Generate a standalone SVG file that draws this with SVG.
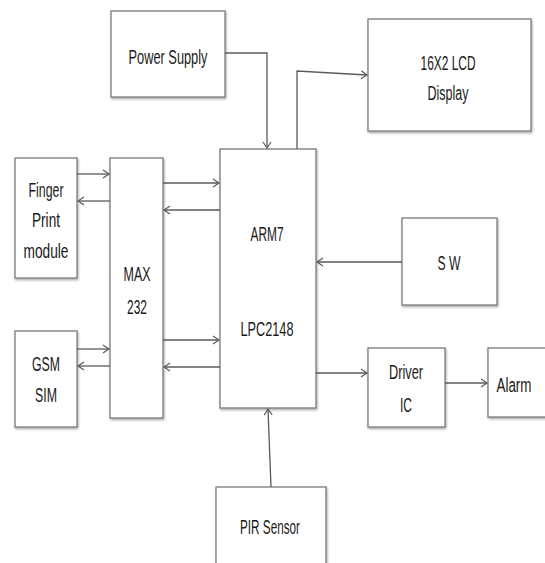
<svg xmlns="http://www.w3.org/2000/svg" width="545" height="563" viewBox="0 0 545 563">
<style>
.box{fill:#fff;stroke:#7a7a7a;stroke-width:1.3;filter:url(#s)}
.t{font-family:"Liberation Sans",Arial,sans-serif;font-size:19.5px;fill:#1a1a1a;text-anchor:middle}
.c{fill:none;stroke:#5a5a5a;stroke-width:1.3}
</style>
<defs>
<filter id="s" x="-5%" y="-5%" width="115%" height="115%">
<feDropShadow dx="0.8" dy="1.5" stdDeviation="0.8" flood-color="#000" flood-opacity="0.35"/>
</filter>
<marker id="a" markerWidth="10" markerHeight="10" refX="7" refY="5" orient="auto" markerUnits="userSpaceOnUse">
<polyline points="1,1 7,5 1,9" fill="none" stroke="#5a5a5a" stroke-width="1.2"/>
</marker>
</defs>
<rect width="545" height="563" fill="#fff"/>
<g id="power">
<rect class="box" x="111" y="11" width="114" height="86"/>
<text class="t" x="168" y="64" textLength="79" lengthAdjust="spacingAndGlyphs">Power Supply</text>
</g>
<g id="lcd">
<rect class="box" x="368" y="19" width="163" height="112"/>
<text class="t" x="448" y="70" textLength="55" lengthAdjust="spacingAndGlyphs">16X2 LCD</text>
<text class="t" x="448" y="100" textLength="41" lengthAdjust="spacingAndGlyphs">Display</text>
</g>
<g id="finger">
<rect class="box" x="15" y="158" width="62" height="120"/>
<text class="t" x="46" y="197" textLength="35" lengthAdjust="spacingAndGlyphs">Finger</text>
<text class="t" x="46" y="227" textLength="28" lengthAdjust="spacingAndGlyphs">Print</text>
<text class="t" x="46" y="258" textLength="45" lengthAdjust="spacingAndGlyphs">module</text>
</g>
<g id="max232">
<rect class="box" x="110" y="158" width="53" height="260"/>
<text class="t" x="137" y="281" textLength="27" lengthAdjust="spacingAndGlyphs">MAX</text>
<text class="t" x="137" y="314" textLength="20" lengthAdjust="spacingAndGlyphs">232</text>
</g>
<g id="arm7">
<rect class="box" x="220" y="149" width="96" height="259"/>
<text class="t" x="267" y="241" textLength="33" lengthAdjust="spacingAndGlyphs">ARM7</text>
<text class="t" x="267" y="336" textLength="53" lengthAdjust="spacingAndGlyphs">LPC2148</text>
</g>
<g id="gsm">
<rect class="box" x="15" y="331" width="62" height="96"/>
<text class="t" x="46" y="371" textLength="28" lengthAdjust="spacingAndGlyphs">GSM</text>
<text class="t" x="46" y="402" textLength="22" lengthAdjust="spacingAndGlyphs">SIM</text>
</g>
<g id="sw">
<rect class="box" x="402" y="218" width="95" height="87"/>
<text class="t" x="449" y="270" textLength="23" lengthAdjust="spacingAndGlyphs">S W</text>
</g>
<g id="driver">
<rect class="box" x="368" y="348" width="77" height="79"/>
<text class="t" x="406" y="379" textLength="34" lengthAdjust="spacingAndGlyphs">Driver</text>
<text class="t" x="406" y="412" textLength="12" lengthAdjust="spacingAndGlyphs">IC</text>
</g>
<g id="alarm">
<rect class="box" x="488" y="348" width="62" height="69"/>
<text class="t" x="514" y="392" textLength="35" lengthAdjust="spacingAndGlyphs">Alarm</text>
</g>
<g id="pir">
<rect class="box" x="216" y="487" width="110" height="90"/>
<text class="t" x="270" y="534" textLength="60" lengthAdjust="spacingAndGlyphs">PIR Sensor</text>
</g>
<g id="connectors">
<polyline class="c" points="225,53 267,53 267,148" marker-end="url(#a)"/>
<polyline class="c" points="297,149 297,71 367,75" marker-end="url(#a)"/>
<line class="c" x1="77" y1="174" x2="109" y2="174" marker-end="url(#a)"/>
<line class="c" x1="110" y1="201" x2="78" y2="201" marker-end="url(#a)"/>
<line class="c" x1="163" y1="183" x2="219" y2="183" marker-end="url(#a)"/>
<line class="c" x1="220" y1="210" x2="164" y2="210" marker-end="url(#a)"/>
<line class="c" x1="77" y1="349" x2="109" y2="349" marker-end="url(#a)"/>
<line class="c" x1="110" y1="366" x2="78" y2="366" marker-end="url(#a)"/>
<line class="c" x1="163" y1="340" x2="219" y2="340" marker-end="url(#a)"/>
<line class="c" x1="220" y1="367" x2="164" y2="367" marker-end="url(#a)"/>
<line class="c" x1="402" y1="262" x2="317" y2="262" marker-end="url(#a)"/>
<line class="c" x1="316" y1="373" x2="367" y2="373" marker-end="url(#a)"/>
<line class="c" x1="445" y1="383" x2="487" y2="383" marker-end="url(#a)"/>
<line class="c" x1="271" y1="487" x2="268" y2="409" marker-end="url(#a)"/>
</g>
</svg>
